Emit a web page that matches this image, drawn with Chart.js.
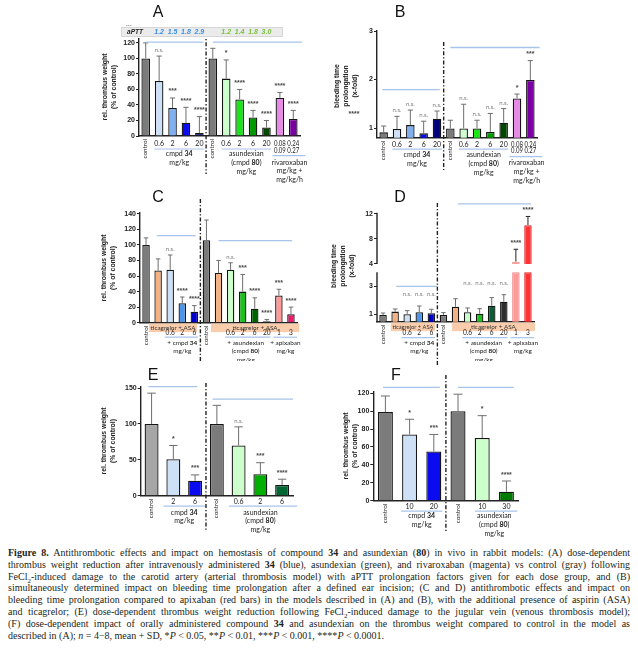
<!DOCTYPE html>
<html><head><meta charset="utf-8">
<script src="https://cdn.jsdelivr.net/npm/chart.js@4.4.1/dist/chart.umd.min.js"></script>
<style>
html,body{margin:0;padding:0;background:#fff;}
#wrap{position:relative;width:638px;height:651px;overflow:hidden;background:#fff;}
#cap{position:absolute;left:8px;top:547px;width:622px;font-family:'Liberation Serif',serif;font-size:10px;line-height:11.8px;color:#231f20;}
#cap .ln{white-space:nowrap;}
#cap sub{font-size:7px;line-height:0;}
</style></head>
<body><div id="wrap">
<div id="cap">
<div class="ln"><span><b>Figure 8.</b> Antithrombotic effects and impact on hemostasis of compound <b>34</b> and asundexian (<b>80</b>) in vivo in rabbit models: (A) dose-dependent</span></div>
<div class="ln"><span>thrombus weight reduction after intravenously administered <b>34</b> (blue), asundexian (green), and rivaroxaban (magenta) vs control (gray) following</span></div>
<div class="ln"><span>FeCl<sub>2</sub>-induced damage to the carotid artery (arterial thrombosis model) with aPTT prolongation factors given for each dose group, and (B)</span></div>
<div class="ln"><span>simultaneously determined impact on bleeding time prolongation after a defined ear incision; (C and D) antithrombotic effects and impact on</span></div>
<div class="ln"><span>bleeding time prolongation compared to apixaban (red bars) in the models described in (A) and (B), with the additional presence of aspirin (ASA)</span></div>
<div class="ln"><span>and ticagrelor; (E) dose-dependent thrombus weight reduction following FeCl<sub>2</sub>-induced damage to the jugular vein (venous thrombosis model);</span></div>
<div class="ln"><span>(F) dose-dependent impact of orally administered compound <b>34</b> and asundexian on the thrombus weight compared to control in the model as</span></div>
<div class="ln last"><span>described in (A); <i>n</i> = 4&#8722;8, mean + SD, *<i>P</i> &lt; 0.05, **<i>P</i> &lt; 0.01, ***<i>P</i> &lt; 0.001, ****<i>P</i> &lt; 0.0001.</span></div>
</div>
</div>
<script>
// ================= DATA =================
// Panel A: thrombus weight (arterial), % of control
const aCategories = ['control','0.6','2','6','20','control','0.6','2','6','20','0.08','0.24'];
const aSecondDose = ['','','','','','','','','','','0.09','0.27'];
const aValues = [100,71,36,17,4,100,74,47,24,11,49,22];
const aSD     = [20,32,13,20,21,13,24,13,9,9,7,11];
const aSig    = ['','n.s.','***','****','****','','*','****','****','****','****','****'];
const aAPTT   = ['','1.2','1.5','1.8','2.9','','1.2','1.4','1.8','3.0','',''];
const aTicks  = [0,20,40,60,80,100,120];

// Panel B: bleeding time prolongation (x-fold)
const bCategories = ['control','0.6','2','6','20','control','0.6','2','6','20','0.08','0.24'];
const bSecondDose = ['','','','','','','','','','','0.09','0.27'];
const bValues = [0.91,0.98,1.06,0.89,1.19,0.99,0.99,0.99,0.92,1.11,1.61,1.99];
const bSD     = [0.13,0.26,0.31,0.25,0.16,0.17,0.50,0.17,0.38,0.29,0.09,0.40];
const bSig    = ['','n.s.','n.s.','n.s.','n.s.','','n.s.','n.s.','n.s.','n.s.','*','***'];
const bTicks  = [1,2,3];

// Panel C: thrombus weight with ticagrelor + ASA
const cCategories = ['control','','0.6','2','6','control','','0.6','2','6','20','1','3'];
const cValues = [100,67,68,25,14,106,64,68,40,18,2,35,11];
const cSD     = [9,15,19,8,8,26,16,9,22,14,2,8,9];
const cSig    = ['','','n.s.','****','****','','','n.s.','***','****','****','***','****'];
const cTicks  = [0,20,40,60,80,100,120,140];

// Panel D: bleeding time with ticagrelor + ASA (broken axis)
const dCategories = ['control','','0.6','2','6','control','','0.6','2','6','20','1','3'];
const dValues = [0.95,1.19,1.00,1.14,1.07,0.95,1.54,1.14,1.04,1.61,1.90,4.37,10.2];
const dSD     = [0.14,0.19,0.26,0.45,0.29,0.17,0.57,0.31,0.36,0.58,0.50,1.98,1.40];
const dSig    = ['','','n.s.','n.s.','n.s.','','','n.s.','n.s.','n.s.','n.s.','****','****'];
const dTicksLow  = [1,2,3,4];
const dTicksHigh = [4,6,8,10,12];
const dBreak = 4;

// Panel E: venous thrombosis
const eCategories = ['control','2','6','control','0.6','2','6'];
const eValues = [100,51,21,100,70,30,15];
const eSD     = [43,19,8,26,26,16,8];
const eSig    = ['','*','***','','n.s.','***','****'];
const eTicks  = [0,50,100,150];

// Panel F: oral administration
const fCategories = ['control','10','20','control','10','30'];
const fValues = [99,74,55,100,70,10];
const fSD     = [18,17,19,19,25,12];
const fSig    = ['','*','***','','*','****'];
const fTicks  = [0,20,40,60,80,100,120];

// ================= DRAWING =================
const GRAY='#7b7b7b', PBLUE='#cde0f6', PGREEN='#ccffcc', ORANGE='#f4b183';
const BLUELINE='#a9c4ea';
const YW = 28;
const TXT = '#222';

function fitText(ctx, s, x, y, maxW){
  const w = ctx.measureText(s).width;
  if (maxW && w > maxW){
    ctx.save(); ctx.translate(x, y); ctx.scale(maxW/w, 1); ctx.fillText(s, 0, 0); ctx.restore();
  } else ctx.fillText(s, x, y);
}
function drawRich(ctx, s, x, y, size, family, color){
  const parts = s.split('**').map((t,i)=>({t, bold: i%2===1}));
  let w = 0;
  parts.forEach(p=>{ ctx.font=(p.bold?'bold ':'')+size+'px '+family; p.w=ctx.measureText(p.t).width; w+=p.w; });
  let cx = x - w/2;
  ctx.textAlign='left'; ctx.textBaseline='middle'; ctx.fillStyle=color;
  parts.forEach(p=>{ ctx.font=(p.bold?'bold ':'')+size+'px '+family; ctx.fillText(p.t, cx, y); cx+=p.w; });
}
function line(ctx,x1,y1,x2,y2){ ctx.beginPath(); ctx.moveTo(x1,y1); ctx.lineTo(x2,y2); ctx.stroke(); }

function decor(cfg){
  return { id:'decor', afterDraw(chart){
    const ctx = chart.ctx, xs = chart.scales.x, ca = chart.chartArea, b = ca.bottom;
    const X = i => xs.getPixelForValue(i);
    const sp = X(1) - X(0);
    const bw = sp * cfg.barPct;
    const ysFor = v => (cfg.broken && v > dBreak) ? chart.scales.yTop : chart.scales.y;
    const tops = cfg.values.map((v,i)=> ysFor(v).getPixelForValue(v + cfg.sd[i]));
    ctx.save();
    if (cfg.broken){
      const yl = chart.scales.y, yt = chart.scales.yTop;
      ctx.strokeStyle='#222'; ctx.lineWidth=1.4;
      line(ctx, ca.left, yl.getPixelForValue(dBreak), ca.left, b);
      line(ctx, ca.left, yt.getPixelForValue(dBreak), ca.left, yt.top);
    }
    // error bars
    ctx.lineWidth = 1;
    cfg.values.forEach((v,i)=>{
      const x = X(i), y1 = ysFor(v).getPixelForValue(v), y2 = tops[i];
      ctx.strokeStyle = (cfg.broken && v > dBreak) ? '#222' : '#6e6e6e';
      line(ctx, x, y1, x, y2);
      line(ctx, x - bw*0.3, y2, x + bw*0.3, y2);
    });
    // significance labels
    const drawSig = (s, x, y) => {
      ctx.textAlign='center'; ctx.textBaseline='alphabetic';
      if (s === 'n.s.'){ ctx.font="6px Lato"; ctx.fillStyle='#7a7a7a'; ctx.fillText(s, x, y-4); }
      else { ctx.font="bold 7px 'Liberation Sans'"; ctx.fillStyle='#4a4a4a'; ctx.fillText(s, x, y-4.5); }
    };
    const rowIdx = new Set();
    (cfg.sigRows||[]).forEach(g=>{
      const y = Math.min(...g.map(i=>tops[i])) - 6;
      g.forEach(i=>{ rowIdx.add(i); if (cfg.sig[i]) drawSig(cfg.sig[i], X(i), y); });
    });
    cfg.sig.forEach((s,i)=>{ if (s && !rowIdx.has(i)) drawSig(s, X(i), tops[i]); });
    // comparison lines
    ctx.strokeStyle = BLUELINE; ctx.lineWidth = 1.3;
    cfg.lines.forEach(L=>{
      const y = chart.scales[L.axis||'y'].getPixelForValue(L.v);
      line(ctx, X(L.from)+L.a*sp, y, X(L.to)+L.c*sp, y);
    });
    // divider
    const xd = (X(cfg.divider-1)+X(cfg.divider))/2;
    ctx.strokeStyle='#222'; ctx.lineWidth=1.4; ctx.setLineDash([4,2,1.3,2]);
    line(ctx, xd, cfg.divY[0], xd, cfg.divY[1]);
    ctx.setLineDash([]);
    // below-axis region
    ctx.save();
    if (cfg.clipY){ ctx.beginPath(); ctx.rect(0,0,638,cfg.clipY); ctx.clip(); }
    (cfg.bands||[]).forEach(B=>{
      const x1 = X(B.from)+B.a*sp, x2 = X(B.to)+B.c*sp;
      ctx.fillStyle='#f9cdab'; ctx.fillRect(x1, b+0.8, x2-x1, 8.6);
      ctx.fillStyle='#333'; ctx.font='6.3px Lato'; ctx.textAlign='center'; ctx.textBaseline='middle';
      fitText(ctx, cfg.bandLabel, (x1+x2)/2, b+5.2, x2-x1-3);
    });
    cfg.labels.forEach((lab,i)=>{
      if (!lab) return;
      if (lab === 'control'){
        ctx.save(); ctx.translate(X(i)-0.5, b+3); ctx.rotate(-Math.PI/2);
        ctx.font='6.3px Lato'; ctx.textAlign='right'; ctx.textBaseline='middle'; ctx.fillStyle=TXT;
        ctx.fillText(lab,0,0); ctx.restore();
      } else {
        ctx.font=cfg.doseFont||'7px Lato'; ctx.textAlign='center'; ctx.textBaseline='middle'; ctx.fillStyle=TXT;
        fitText(ctx, lab, X(i), b+cfg.doseDy, sp-1.5);
      }
    });
    if (cfg.labels2){
      cfg.labels2.forEach((lab,i)=>{ if(!lab) return;
        ctx.font=cfg.doseFont||'7px Lato'; ctx.textAlign='center'; ctx.textBaseline='middle'; ctx.fillStyle=TXT;
        fitText(ctx, lab, X(i), b+cfg.dose2Dy, sp-1.5); });
    }
    cfg.groups.forEach(G=>{
      ctx.strokeStyle=BLUELINE; ctx.lineWidth=1.2;
      line(ctx, X(G.from)+G.a*sp, b+G.ul, X(G.to)+G.c*sp, b+G.ul);
      const cx = (X(G.from)+X(G.to))/2 + (G.dx||0);
      G.text.forEach((s,k)=> drawRich(ctx, s, cx, b+G.ty+k*cfg.lh, cfg.groupSize||7, 'Lato', TXT));
    });
    ctx.restore();
    // panel letter
    ctx.font="16px 'Liberation Sans'"; ctx.fillStyle='#111'; ctx.textAlign='center'; ctx.textBaseline='middle';
    ctx.fillText(cfg.letter[0], cfg.letter[1], cfg.letter[2]);
    // y title
    cfg.yTitle.lines.forEach((s,k)=>{
      ctx.save(); ctx.translate(cfg.yTitle.xs[k], cfg.yTitle.cy); ctx.rotate(-Math.PI/2);
      ctx.font="bold 6.8px 'Liberation Sans'"; ctx.fillStyle=TXT; ctx.textAlign='center'; ctx.textBaseline='middle';
      ctx.fillText(s,0,0); ctx.restore();
    });
    if (cfg.extra) cfg.extra(ctx, X, chart);
    ctx.restore();
  }};
}

function yAxis(ticksArr, min, max, extra){
  return Object.assign({
    type:'linear', position:'left', min, max,
    afterBuildTicks: s => { s.ticks = ticksArr.map(v=>({value:v})); },
    afterFit: s => { s.width = YW; },
    grid:{display:true, drawOnChartArea:false, drawTicks:true, tickLength:3, color:'#222', lineWidth:1},
    border:{display:true, color:'#222', width:1.4},
    ticks:{font:{family:'Liberation Sans', weight:'bold', size:7}, color:'#222', padding:1}
  }, extra||{});
}

function buildPanel(cfg){
  const cv = document.createElement('canvas');
  cv.width = 638; cv.height = 545;
  cv.style.cssText = 'position:absolute;left:0;top:0;';
  document.getElementById('wrap').appendChild(cv);
  const [l,t,r,b] = cfg.area;
  const base = {backgroundColor: cfg.colors, borderColor: cfg.borders || '#151515', borderWidth: 1.3,
                barPercentage: cfg.barPct, categoryPercentage: 1, grouped:false};
  let scales = {
    x:{type:'category', offset:true, grid:{display:false}, ticks:{display:false},
       border:{display:true, color:'#222', width:1.4}, afterFit: s=>{ s.height = 0; }}
  };
  let datasets;
  if (cfg.broken){
    scales.y = yAxis(dTicksLow, cfg.low[0], cfg.low[1], {stack:'d', stackWeight:cfg.low[2], border:{display:false}});
    scales.yTop = yAxis(dTicksHigh, cfg.high[0], cfg.high[1], {stack:'d', stackWeight:cfg.high[2], border:{display:false}});
    datasets = [
      Object.assign({data: cfg.values.map(v=>Math.min(v, dBreak)), yAxisID:'y'}, base),
      Object.assign({data: cfg.values.map(v=> v > dBreak ? [dBreak, v] : null), yAxisID:'yTop'}, base)
    ];
  } else {
    scales.y = yAxis(cfg.ticks, cfg.yMin, cfg.yMax);
    datasets = [Object.assign({data: cfg.values, yAxisID:'y'}, base)];
  }
  new Chart(cv, {
    type:'bar',
    data:{labels: cfg.labels.map((s,i)=>s+'#'+i), datasets},
    options:{
      responsive:false, animation:false, devicePixelRatio:1, events:[],
      layout:{padding:{left:l-YW, top:t, right:638-r, bottom:545-b}},
      plugins:{legend:{display:false}, tooltip:{enabled:false}},
      scales
    },
    plugins:[decor(cfg)]
  });
}

const thrombusTitle = ['rel. thrombus weight','(% of control)'];
const bleedTitle = ['bleeding time','prolongation','(x-fold)'];

// ---- A ----
buildPanel({
  area:[139,39,300,136], yMin:0, yMax:125, ticks:aTicks, barPct:0.64,
  labels:aCategories, labels2:aSecondDose, values:aValues, sd:aSD, sig:aSig,
  colors:[GRAY,PBLUE,'#80b1ee','#0b0bf0','#00007a',GRAY,PGREEN,'#19e619','#009a00','#004700','#e68ae6','#7a00a3'],
  divider:5, divY:[33,174],
  lines:[{from:0,to:4,a:0,c:0.3,v:121},{from:5,to:11,a:0,c:0.65,v:121}],
  doseDy:8, dose2Dy:14.3, lh:8.9,
  groups:[
    {from:1,to:4,a:-0.35,c:0.35,ul:13,ty:18,text:['cmpd **34**','mg/kg']},
    {from:6,to:9,a:-0.35,c:0.35,ul:13,ty:18,text:['asundexian','(cmpd **80**)','mg/kg']},
    {from:10,to:11,a:-0.55,c:0.9,ul:19.7,ty:26.3,dx:3,text:['rivaroxaban','mg/kg +','mg/kg/h']}
  ],
  letter:['A',158,13],
  yTitle:{lines:thrombusTitle, xs:[105,114], cy:87},
  extra:(ctx,X)=>{
    ctx.fillStyle='#ebebeb'; ctx.fillRect(121,27,162,10);
    ctx.strokeStyle='#d2d2d2'; ctx.lineWidth=0.8; ctx.strokeRect(121.5,27.5,161,9);
    ctx.font="italic bold 6.5px 'Liberation Sans'"; ctx.fillStyle='#222'; ctx.textAlign='center'; ctx.textBaseline='middle';
    ctx.fillText('aPTT',135,32.3);
    ctx.font="italic bold 7px 'Liberation Sans'";
    aAPTT.forEach((s,i)=>{ if(!s) return; ctx.fillStyle = i<5 ? '#3a8ee6' : '#78c13c'; ctx.fillText(s, X(i), 32.3); });
    ctx.fillStyle='#888'; ctx.fillText('...',129,24);
  }
});

// ---- B ----
buildPanel({
  area:[377,31,537,137.7], yMin:0.8, yMax:3.0, ticks:bTicks, barPct:0.64,
  labels:bCategories, labels2:bSecondDose, values:bValues, sd:bSD, sig:bSig,
  colors:[GRAY,PBLUE,'#80b1ee','#0b0bf0','#00007a',GRAY,PGREEN,'#19e619','#009a00','#004700','#e68ae6','#7a00a3'],
  divider:5, divY:[42,170],
  lines:[{from:0,to:4,a:-0.1,c:0.2,v:1.79},{from:5,to:11,a:0,c:0.7,v:2.66}],
  doseDy:7.5, dose2Dy:13.5, lh:8.9,
  groups:[
    {from:1,to:4,a:-0.35,c:0.35,ul:11.5,ty:17,text:['cmpd **34**','mg/kg']},
    {from:6,to:9,a:-0.35,c:0.35,ul:11.5,ty:17,text:['asundexian','(cmpd **80**)','mg/kg']},
    {from:10,to:11,a:-0.55,c:0.9,ul:19,ty:25.5,dx:3,text:['rivaroxaban','mg/kg +','mg/kg/h']}
  ],
  letter:['B',400,13],
  yTitle:{lines:bleedTitle, xs:[337,346,355], cy:86},
  extra:(ctx)=>{
    ctx.font="bold 7px 'Liberation Sans'"; ctx.fillStyle='#444'; ctx.textAlign='center'; ctx.textBaseline='middle';
    ctx.fillText('****',354,114);
  }
});

// ---- C ----
buildPanel({
  area:[140,213,297,322.7], yMin:0, yMax:141, ticks:cTicks, barPct:0.62,
  labels:cCategories, values:cValues, sd:cSD, sig:cSig,
  colors:[GRAY,ORANGE,PBLUE,'#4d95ea','#0000cc',GRAY,ORANGE,PGREEN,'#1fbf1f','#006400','#003300','#ff9a9a','#f0186e'],
  divider:5, divY:[199,362], clipY:361,
  lines:[{from:1,to:4,a:-0.1,c:0.1,v:112},{from:6,to:12,a:0,c:0.1,v:105.5}],
  bands:[{from:1,to:4,a:-0.75,c:0.22},{from:6,to:12,a:-0.62,c:0.68}], bandLabel:'ticagrelor + ASA',
  doseDy:10.5, lh:8.3, groupSize:6.4, doseFont:'6.6px Lato',
  groups:[
    {from:2,to:4,a:-0.45,c:0.3,ul:14.5,ty:20.3,text:['+ cmpd **34**','mg/kg']},
    {from:7,to:10,a:-0.45,c:0.3,ul:14.5,ty:20.3,dx:-3,text:['+ asundexian','(cmpd **80**)','mg/kg']},
    {from:11,to:12,a:-0.45,c:0.5,ul:14.5,ty:20.3,dx:0.5,text:['+ apixaban','mg/kg']}
  ],
  letter:['C',158,198],
  yTitle:{lines:thrombusTitle, xs:[104,113], cy:268}
});

// ---- D ----
buildPanel({
  area:[377,212.7,534,321.7], broken:true, barPct:0.62,
  low:[0.47,4.306,53.7], high:[3.35,12.2,55.3],
  labels:dCategories, values:dValues, sd:dSD, sig:dSig,
  sigRows:[[2,3,4],[7,8,9,10]],
  colors:[GRAY,ORANGE,PBLUE,'#4d95ea','#0000cc',GRAY,ORANGE,PGREEN,'#1fbf1f','#0b5e34','#2e2e2e','#ff9a9a','#ff3333'],
  borders:['#151515','#151515','#151515','#151515','#151515','#151515','#151515','#151515','#151515','#151515','#151515','#f08a8a','#e02a2a'],
  divider:5, divY:[203,365], clipY:361,
  lines:[{from:1,to:4,a:0.1,c:0.5,v:3.0},{from:6,to:12,a:0.2,c:0.25,v:13.6,axis:'yTop'}],
  bands:[{from:1,to:4,a:-0.35,c:0.3},{from:6,to:12,a:-0.3,c:0.58}], bandLabel:'ticagrelor + ASA',
  doseDy:11.6, lh:8.4, groupSize:6.4, doseFont:'6.6px Lato',
  groups:[
    {from:2,to:4,a:-0.45,c:0.3,ul:16,ty:21,text:['+ cmpd **34**','mg/kg']},
    {from:7,to:10,a:-0.45,c:0.3,ul:16,ty:21,dx:-2,text:['+ asundexian','(cmpd **80**)','mg/kg']},
    {from:11,to:12,a:-0.45,c:0.5,ul:16,ty:21,dx:1,text:['+ apixaban','mg/kg']}
  ],
  letter:['D',400,198],
  yTitle:{lines:bleedTitle, xs:[334,343.5,352.5], cy:266}
});

// ---- E ----
buildPanel({
  area:[140.7,386.7,293,495.7], yMin:0, yMax:152, ticks:eTicks, barPct:0.64,
  labels:eCategories, values:eValues, sd:eSD, sig:eSig,
  colors:['#a6a6a6',PBLUE,'#0b0bf0',GRAY,PGREEN,'#00b000','#006633'],
  divider:3, divY:[383,531],
  lines:[{from:0,to:2,a:-0.15,c:0.1,v:152},{from:3,to:6,a:-0.2,c:0.5,v:134.6}],
  doseDy:6.5, lh:8.6,
  groups:[
    {from:1,to:2,a:-0.45,c:0.45,ul:10.5,ty:16.8,text:['cmpd **34**','mg/kg']},
    {from:4,to:6,a:-0.45,c:0.7,ul:10.5,ty:16.8,text:['asundexian','(cmpd **80**)','mg/kg']}
  ],
  letter:['E',153,376],
  yTitle:{lines:thrombusTitle, xs:[104,113], cy:441}
});

// ---- F ----
buildPanel({
  area:[373.3,391.5,518.5,500.7], yMin:0, yMax:122, ticks:fTicks, barPct:0.62,
  labels:fCategories, values:fValues, sd:fSD, sig:fSig,
  colors:[GRAY,PBLUE,'#0b0bf0',GRAY,PGREEN,'#007a00'],
  divider:3, divY:[375,532],
  lines:[{from:0,to:2,a:-0.1,c:0.25,v:126.7},{from:3,to:5,a:0,c:0.3,v:126.7}],
  doseDy:6.3, lh:8.8,
  groups:[
    {from:1,to:2,a:-0.35,c:0.35,ul:10.5,ty:15.5,text:['cmpd **34**','mg/kg']},
    {from:4,to:5,a:-0.3,c:0.45,ul:10.5,ty:15.5,text:['asundexian','(cmpd **80**)','mg/kg']}
  ],
  letter:['F',396,376],
  yTitle:{lines:thrombusTitle, xs:[346,355], cy:446}
});

// caption justification
document.querySelectorAll('#cap .ln').forEach(d=>{
  if (d.classList.contains('last')) return;
  const sp = d.firstElementChild;
  const w = sp.getBoundingClientRect().width;
  const n = (sp.textContent.match(/ /g)||[]).length;
  sp.style.wordSpacing = ((622 - w)/n) + 'px';
});
</script>
</body></html>
